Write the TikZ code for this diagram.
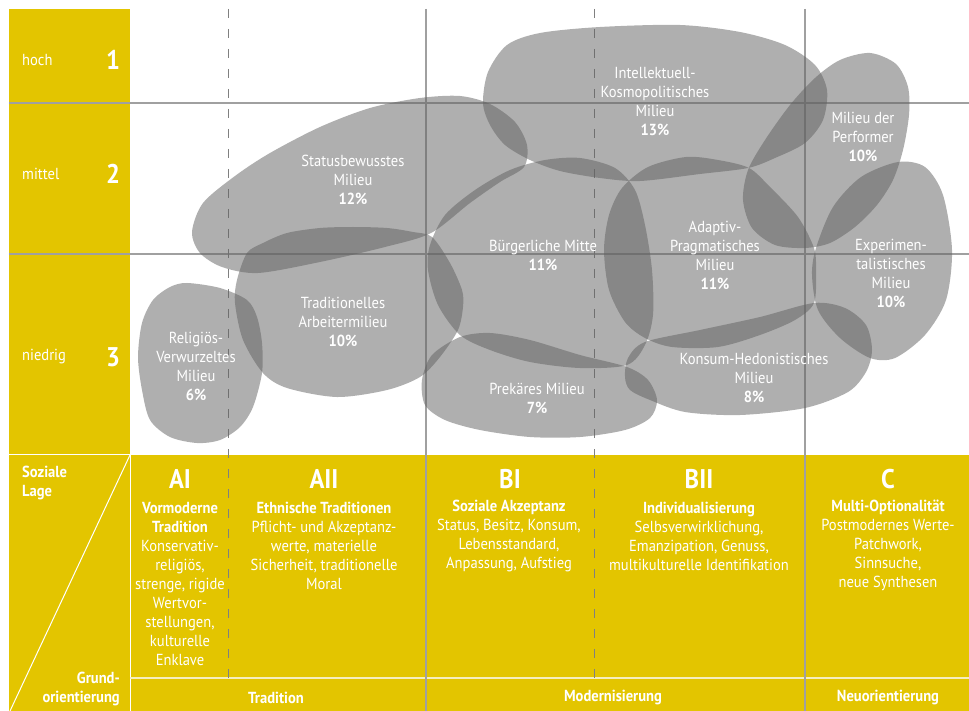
\documentclass[tikz,border=0pt]{standalone}
\usepackage{fontspec}
\setmainfont[FakeStretch=0.91]{PT Sans}
\definecolor{sinusyellow}{RGB}{227,197,0}
\definecolor{gridgray}{RGB}{160,160,160}
\definecolor{paleline}{RGB}{245,238,190}
\begin{document}
\begin{tikzpicture}[x=1pt,y=-1pt,
  blob/.style={fill=black!62,fill opacity=0.5},
  gridline/.style={draw=gridgray,line width=1.2pt},
  dashline/.style={draw=gray,line width=1pt,dash pattern=on 9pt off 11pt},
  whiteline/.style={draw=white,line width=1pt},
  txt/.style={text=white,align=center,inner sep=0pt,font=\fontsize{16}{19}\selectfont},
  btxt/.style={txt,font=\fontsize{16}{19}\selectfont\bfseries},
  big/.style={text=white,inner sep=0pt,font=\fontsize{27}{29}\selectfont\bfseries},
  smooth cycle
]
\useasboundingbox (0,0) rectangle (969,711);
\fill[white] (0,0) rectangle (969,711);
% yellow areas
\fill[sinusyellow] (9,9) rectangle (130,454);
\fill[sinusyellow] (9,455) rectangle (969,711);
% band separators
\draw[whiteline] (130,455) -- (130,711);
\draw[whiteline] (130,455) -- (10,711);
\draw[draw=paleline,line width=1.5pt] (130,678) -- (969,678);
% grid
\draw[gridline] (9,103) -- (969,103);
\draw[gridline] (9,254) -- (969,254);
\draw[gridline] (426,9) -- (426,711);
\draw[gridline] (805,9) -- (805,711);
\draw[dashline] (228,9) -- (228,678);
\draw[dashline] (594,9) -- (594,678);
% blobs
\fill[blob] plot[smooth cycle] coordinates {(192,232) (203,203) (235,176) (270,153) (320,127) (370,108) (420,98) (460,96) (490,104) (515,122) (527,145) (524,167) (500,182) (470,203) (431,233) (385,247) (320,262) (258,273) (222,267) (200,253)};
\fill[blob] plot[smooth cycle] coordinates {(237,280) (247,253) (263,243) (287,233) (320,228) (353,227) (387,228) (413,232) (432,237) (450,263) (462,290) (463,307) (458,330) (440,357) (420,377) (387,390) (337,397) (287,388) (263,373) (243,340) (235,303)};
\fill[blob] plot[smooth cycle] coordinates {(187,283) (220,288) (247,300) (257,317) (262,343) (262,373) (253,407) (240,427) (220,440) (197,443) (170,437) (150,420) (142,390) (138,357) (142,323) (153,300) (170,287)};
\fill[blob] plot[smooth cycle] coordinates {(483,103) (488,72) (507,45) (540,33) (600,27) (680,25) (740,32) (785,45) (815,65) (827,90) (823,120) (805,143) (775,158) (748,168) (700,174) (640,181) (600,178) (560,171) (530,160) (505,145) (490,125)};
\fill[blob] plot[smooth cycle] coordinates {(870,53) (896,64) (908,87) (909,115) (903,150) (893,180) (877,205) (855,227) (830,243) (805,248) (775,245) (752,228) (743,200) (748,170) (765,140) (790,105) (815,78) (840,60)};
\fill[blob] plot[smooth cycle] coordinates {(648,167) (686,157) (718,160) (749,168) (770,187) (798,217) (814,248) (816,270) (814,303) (795,320) (760,335) (718,347) (672,347) (645,338) (625,322) (609,290) (604,250) (609,215) (622,188)};
\fill[blob] plot[smooth cycle] coordinates {(430,245) (445,215) (475,190) (510,170) (545,160) (580,158) (615,168) (635,190) (645,225) (652,270) (653,315) (645,345) (627,365) (580,368) (530,362) (490,350) (460,335) (438,305) (428,270)};
\fill[blob] plot[smooth cycle] coordinates {(422,380) (432,355) (460,337) (490,333) (530,340) (580,355) (627,367) (648,380) (657,400) (650,418) (625,430) (580,437) (530,437) (480,430) (445,420) (425,405)};
\fill[blob] plot[smooth cycle] coordinates {(625,377) (628,358) (645,342) (700,330) (760,317) (814,303) (845,308) (866,325) (872,350) (866,372) (848,392) (805,408) (740,415) (685,412) (650,400) (630,390)};
\fill[blob] plot[smooth cycle] coordinates {(816,248) (833,207) (861,177) (898,162) (925,167) (943,195) (952,250) (946,300) (925,335) (895,358) (870,358) (840,338) (818,310) (812,275)};
% milieu labels
\node[txt] (sb) at (353,179.5) {Statusbewusstes\\Milieu\\\textbf{12\%}};
\node[txt] (ta) at (343,322) {Traditionelles\\Arbeitermilieu\\\textbf{10\%}};
\node[txt] (rv) at (196,366.5) {Religiös-\\Verwurzeltes\\Milieu\\\textbf{6\%}};
\node[txt] (ik) at (655,102) {Intellektuell-\\Kosmopolitisches\\Milieu\\\textbf{13\%}};
\node[txt] (pf) at (863,137) {Milieu der\\Performer\\\textbf{10\%}};
\node[txt] (bm) at (543,255.5) {Bürgerliche Mitte\\\textbf{11\%}};
\node[txt] (ap) at (715,255) {Adaptiv-\\Pragmatisches\\Milieu\\\textbf{11\%}};
\node[txt] (ex) at (891,273.5) {Experimen-\\talistisches\\Milieu\\\textbf{10\%}};
\node[txt] (pm) at (537,398.5) {Prekäres Milieu\\\textbf{7\%}};
\node[txt] (kh) at (754,378) {Konsum-Hedonistisches\\Milieu\\\textbf{8\%}};
% left column
\node[txt,anchor=west] (hoch) at (22,60) {hoch};
\node[txt,anchor=west] (mittel) at (22,174) {mittel};
\node[txt,anchor=west] (niedrig) at (22,357) {niedrig};
\node[big] (n1) at (113,60) {1};
\node[big] (n2) at (113,174) {2};
\node[big] (n3) at (113,357) {3};
\node[btxt,align=left,anchor=west] (lage) at (22,482.5) {Soziale\\Lage};
\node[btxt,align=right,anchor=east] (grund) at (120,688.5) {Grund-\\orientierung};
% columns
\node[big] (ai) at (180,479) {AI};
\node[big] (aii) at (324,479) {AII};
\node[big] (bi) at (510,479) {BI};
\node[big] (bii) at (699,479) {BII};
\node[big] (c) at (888,479) {C};
\node[txt] (aitxt) at (180,583.5) {\textbf{Vormoderne}\\\textbf{Tradition}\\Konservativ-\\religiös,\\strenge, rigide\\Wertvor-\\stellungen,\\kulturelle\\Enklave};
\node[txt] (aiitxt) at (324,545.8) {\textbf{Ethnische Traditionen}\\Pflicht- und Akzeptanz-\\werte, materielle\\Sicherheit, traditionelle\\Moral};
\node[txt] (bitxt) at (509,536.3) {\textbf{Soziale Akzeptanz}\\Status, Besitz, Konsum,\\Lebensstandard,\\Anpassung, Aufstieg};
\node[txt] (biitxt) at (699,536.3) {\textbf{Individualisierung}\\Selbsverwirklichung,\\Emanzipation, Genuss,\\multikulturelle Identifikation};
\node[txt] (ctxt) at (888,545.8) {\textbf{Multi-Optionalität}\\Postmodernes Werte-\\Patchwork,\\Sinnsuche,\\neue Synthesen};
\node[btxt] (trad) at (276,698) {Tradition};
\node[btxt] (mod) at (613,698) {Modernisierung};
\node[btxt] (neu) at (888,698) {Neuorientierung};
\end{tikzpicture}
\end{document}
